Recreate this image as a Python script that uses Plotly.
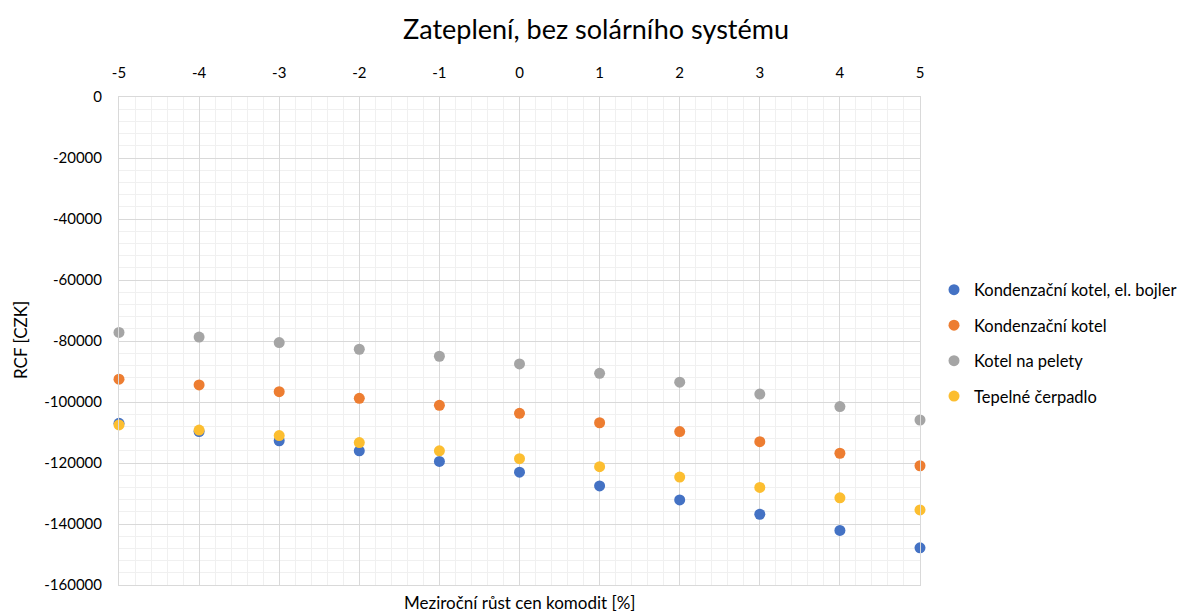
import plotly.graph_objects as go

x_vals = [-5, -4, -3, -2, -1, 0, 1, 2, 3, 4, 5]
kotel_bojler = [-107000, -109700, -112700, -116000, -119500, -123000, -127500, -132100, -136800, -142100, -147800]
kotel = [-92500, -94400, -96600, -98800, -101100, -103700, -106800, -109700, -113000, -116800, -120900]
pelety = [-77200, -78700, -80500, -82700, -85000, -87500, -90600, -93500, -97400, -101500, -105900]
cerpadlo = [-107500, -109200, -111000, -113300, -116000, -118600, -121200, -124600, -128000, -131400, -135400]

series_names = ["Kondenzační kotel, el. bojler", "Kondenzační kotel", "Kotel na pelety", "Tepelné čerpadlo"]
series_vals = [kotel_bojler, kotel, pelety, cerpadlo]
colors = ["#4472C4", "#ED7D31", "#A5A5A5", "#FCBE30"]

y_ticks = [0, -20000, -40000, -60000, -80000, -100000, -120000, -140000, -160000]
y_ticklabels = [str(v) for v in y_ticks]
x_ticklabels = [str(v) for v in x_vals]

FONT = "Lato"
# page body has an 8px margin, so the figure is sized to fit the remaining window
W, H = 1185, 604
L, R, T, B = 111, 273, 89, 27
PW, PH = W - L - R, H - T - B

fig = go.Figure()
for name, vals, c in zip(series_names, series_vals, colors):
    fig.add_trace(go.Scatter(
        x=x_vals, y=vals, mode="markers", name=name, legendgroup=name,
        marker=dict(color=c, size=11), cliponaxis=False,
    ))

fig.update_layout(
    width=W, height=H,
    margin=dict(l=L, r=R, t=T, b=B, autoexpand=False),
    paper_bgcolor="white", plot_bgcolor="white",
    font=dict(family=FONT, color="#000000", size=15),
    title=dict(text="Zateplení, bez solárního systému", x=588 / W, xanchor="center",
               xref="container", y=1 - 22 / H, yanchor="middle", yref="container",
               font=dict(size=27, family=FONT, color="#000000")),
    legend=dict(x=1 + 14 / PW, xanchor="left", y=0.5 - 2 / PH, yanchor="middle",
                font=dict(size=16.5, family=FONT), tracegroupgap=11,
                itemwidth=30, borderwidth=0),
    showlegend=True,
)

fig.update_xaxes(
    side="top", range=[-5, 5], tickvals=x_vals, ticktext=x_ticklabels,
    showgrid=True, gridcolor="#d9d9d9", gridwidth=1,
    minor=dict(dtick=0.2, showgrid=True, gridcolor="#f0f0f0", gridwidth=1),
    zeroline=False, showline=True, linecolor="#d9d9d9", mirror=True,
    ticks="", ticklen=0, tickfont=dict(size=15, family=FONT),
    ticklabelstandoff=12, automargin=False,
)
fig.update_yaxes(
    range=[-160000, 0], tickvals=y_ticks, ticktext=y_ticklabels,
    showgrid=True, gridcolor="#d9d9d9", gridwidth=1,
    minor=dict(dtick=4000, showgrid=True, gridcolor="#f0f0f0", gridwidth=1),
    zeroline=False, showline=True, linecolor="#d9d9d9", mirror=True,
    ticks="", tickfont=dict(size=15, family=FONT),
    ticklabelstandoff=13, automargin=False,
)

fig.add_annotation(text="Meziroční růst cen komodit [%]", x=0.5, xref="paper",
                   y=-(594 - 577) / PH, yref="paper", yanchor="middle", showarrow=False,
                   font=dict(size=17, family=FONT))
fig.add_annotation(text="RCF [CZK]", x=(12 - L) / PW, xref="paper", xanchor="center",
                   y=(577 - 332) / PH, yref="paper", yanchor="middle", showarrow=False,
                   textangle=-90, font=dict(size=17, family=FONT))

fig.write_html("out.html")
